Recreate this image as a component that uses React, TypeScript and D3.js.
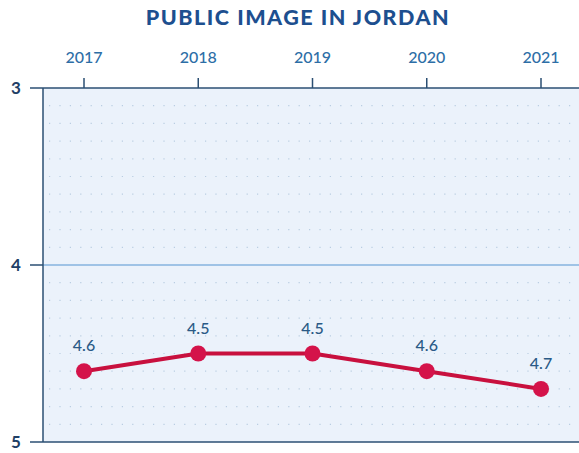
import React from 'react';
import { scaleLinear, range } from 'd3';

const years = [2017, 2018, 2019, 2020, 2021];
const scores = [4.6, 4.5, 4.5, 4.6, 4.7];
const yTicks = [3, 4, 5];

const dim = {
  width: 579,
  height: 453,
  left: 43,
  top: 88,
  bottom: 442,
};

const App = () => {
  const x = scaleLinear().domain([2017, 2021]).range([84, 541]);
  const y = scaleLinear().domain([3, 5]).range([dim.top, dim.bottom]);

  const gridRows = range(31, 50).map((d) => d / 10).filter((d) => d !== 4);
  const pts = years.map((yr, i) => [x(yr), y(scores[i])]);

  return (
    <svg
      width={dim.width}
      height={dim.height}
      style={{ position: 'absolute', left: 0, top: 0, fontFamily: 'Lato, "Open Sans", sans-serif' }}
    >
      <text
        x={298}
        y={25}
        textAnchor="middle"
        fill="#1d4f8f"
        fontSize={21.5}
        fontWeight={900}
        letterSpacing={1.5}
      >
        PUBLIC IMAGE IN JORDAN
      </text>

      {/* plot background */}
      <rect x={dim.left} y={dim.top} width={dim.width - dim.left} height={dim.bottom - dim.top} fill="#ebf2fb" />

      {/* dotted grid */}
      {gridRows.map((v) => (
        <line
          key={v}
          x1={dim.left + 6}
          x2={dim.width}
          y1={y(v)}
          y2={y(v)}
          stroke="#b9cde2"
          strokeWidth={1.2}
          strokeDasharray="1.2 9.2"
        />
      ))}

      <line x1={dim.left} x2={dim.width} y1={y(4)} y2={y(4)} stroke="#9fc3e6" strokeWidth={2} />

      {/* axes */}
      <line x1={dim.left} x2={dim.width} y1={dim.top} y2={dim.top} stroke="#2b4f73" strokeWidth={1.5} />
      <line x1={dim.left} x2={dim.width} y1={dim.bottom} y2={dim.bottom} stroke="#2b4f73" strokeWidth={1.5} />
      <line x1={dim.left} x2={dim.left} y1={dim.top} y2={dim.bottom} stroke="#2b4f73" strokeWidth={1.5} />

      {yTicks.map((t) => (
        <g key={t}>
          <line x1={30} x2={dim.left} y1={y(t)} y2={y(t)} stroke="#2b4f73" strokeWidth={1.5} />
          <text x={16} y={y(t) + 6} textAnchor="middle" fill="#1f3f66" fontSize={17} fontWeight={700}>
            {t}
          </text>
        </g>
      ))}

      {years.map((yr) => (
        <g key={yr}>
          <line x1={x(yr)} x2={x(yr)} y1={78} y2={dim.top} stroke="#2b4f73" strokeWidth={1.5} />
          <text x={x(yr)} y={63} textAnchor="middle" fill="#2d6ea6" fontSize={16} fontWeight={500}>
            {yr}
          </text>
        </g>
      ))}

      {/* series */}
      <polyline
        points={pts.map((p) => p.join(',')).join(' ')}
        fill="none"
        stroke="#c8103e"
        strokeWidth={4}
        strokeLinejoin="round"
      />
      {pts.map((p, i) => (
        <g key={years[i]}>
          <circle cx={p[0]} cy={p[1]} r={8} fill="#d4134a" />
          <text x={p[0]} y={p[1] - 20} textAnchor="middle" fill="#2a5a86" fontSize={16} fontWeight={500}>
            {scores[i]}
          </text>
        </g>
      ))}
    </svg>
  );
};

export default App;
